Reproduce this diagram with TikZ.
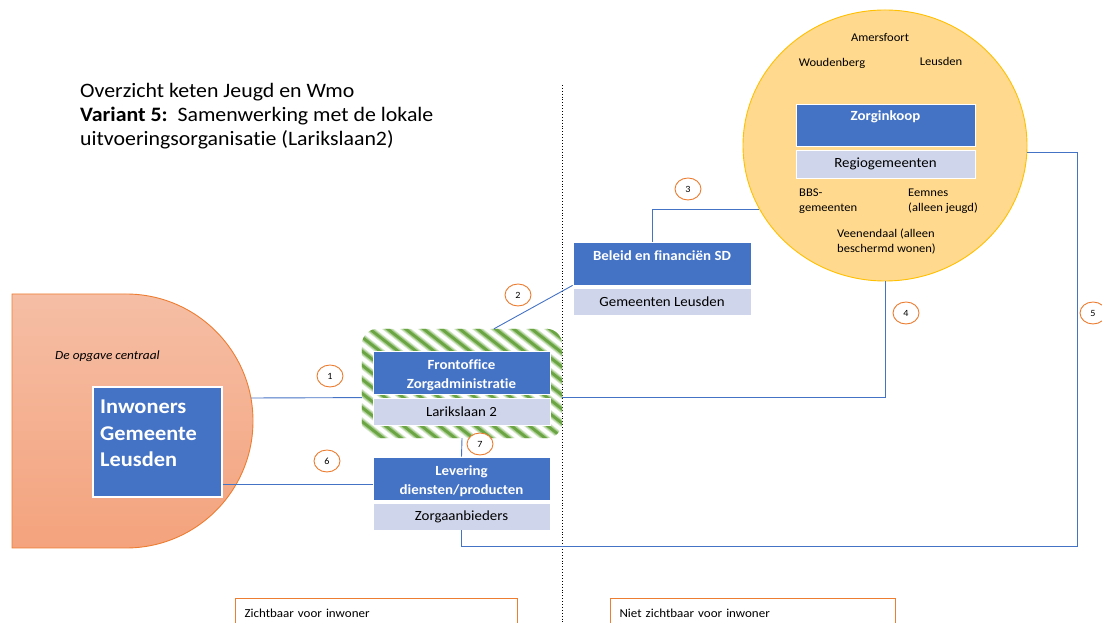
\documentclass[tikz,border=0pt]{standalone}
\usepackage{fontspec}
\setmainfont{Carlito}[FakeStretch=1.065, Ligatures=NoCommon]
\usetikzlibrary{shapes.geometric,calc}

\definecolor{blueC}{HTML}{4472C4}
\definecolor{lightC}{HTML}{CFD5EA}
\definecolor{orangeC}{HTML}{ED7D31}
\definecolor{dTop}{HTML}{F5BEA5}
\definecolor{dBot}{HTML}{F4A37D}
\definecolor{ellFill}{HTML}{FFD98E}
\definecolor{ellDraw}{HTML}{FFC000}
\definecolor{greenC}{HTML}{70AD47}

\tikzset{
  hdr/.style={draw=white, line width=0.8, fill=blueC, minimum width=177, minimum height=43, inner sep=0},
  hdrtxt/.style={text=white, font=\bfseries\fontsize{14}{19}\selectfont, align=center, inner sep=0},
  sub/.style={draw=white, line width=0.8, fill=lightC, minimum width=177, minimum height=27, inner sep=0, font=\fontsize{14}{16}\selectfont},
  num/.style={ellipse, draw=orangeC, line width=0.9, fill=white, minimum width=26, minimum height=22, inner sep=0, font=\fontsize{9.5}{10}\selectfont},
  conn/.style={draw=blueC, line width=0.9},
  small/.style={font=\fontsize{11.8}{15}\selectfont, inner sep=0, align=left},
  visbox/.style={draw=orangeC, line width=1, fill=white, text width=264, inner xsep=9, inner ysep=0, minimum height=30, align=left, font=\fontsize{12.2}{14}\selectfont},
  stripeSoft/.style={line width=7, draw=greenC!30},
  stripeMid/.style={line width=5, draw=greenC!60},
  stripeCore/.style={line width=2.8, draw=greenC!95!black},
}

\begin{document}
\begin{tikzpicture}[x=1pt, y=1pt]
\useasboundingbox (0,0) rectangle (1102,623);

% title
\node[anchor=north west, inner sep=0, align=left, font=\fontsize{20.5}{24}\selectfont] (title) at (80,540)
  {Overzicht keten Jeugd en Wmo\\
   \textbf{Variant 5:}\ \ Samenwerking met de lokale\\
   uitvoeringsorganisatie (Larikslaan2)};

% divider between visible and invisible part
\coordinate (divTop) at (562,538);
\coordinate (divBot) at (562,0);
\draw[dotted, line width=0.9] (divTop) -- (divBot);

% "De opgave centraal" area
\path[draw=orangeC, line width=0.9, top color=dTop, bottom color=dBot]
  (12,75) -- (12,329) -- (126,329) arc[start angle=90, end angle=-90, radius=127] -- cycle;
\coordinate (opgaveRand) at (250.9,225);
\node[anchor=west, inner sep=0, font=\itshape\fontsize{12.5}{14}\selectfont] (opgave) at (55,267) {De opgave centraal};

% inhabitants
\node[draw=white, line width=1.2, fill=blueC, minimum width=129, minimum height=110, inner sep=0] (inw) at (157.5,181) {};
\node[anchor=north west, inner sep=0, align=left, text=white, font=\bfseries\fontsize{21}{26.5}\selectfont] (inwTxt) at (100,223)
  {Inwoners\\Gemeente\\Leusden};

% striped frontoffice frame
\node[minimum width=200, minimum height=109, inner sep=0] (stripe) at (462,239.5) {};
\begin{scope}
  \path[clip, rounded corners=16] (stripe.south west) rectangle (stripe.north east);
  \fill[white] (stripe.south west) rectangle (stripe.north east);
  \foreach \k in {-11,...,12} {
    \draw[stripeSoft] (362+\k*18,300) -- ++(170,-133);
    \draw[stripeMid] (362+\k*18,300) -- ++(170,-133);
    \draw[stripeCore] (362+\k*18,300) -- ++(170,-133);
  }
\end{scope}

% boxes
\node[hdr] (front) at (461.5,250) {};
\node[hdrtxt] (frontTxt) at (461.5,247.5) {Frontoffice\\Zorgadministratie};
\node[sub] (larik) at (461.5,211.5) {Larikslaan 2};

\node[hdr] (lev) at (461.5,144.5) {};
\node[hdrtxt] (levTxt) at (461.5,142) {Levering\\diensten/producten};
\node[sub] (zorg) at (461.5,106.5) {Zorgaanbieders};

\node[hdr, minimum width=178] (bel) at (662,359.5) {};
\node[hdrtxt] (belTxt) at (662,367) {Beleid en financiën SD};
\node[sub, minimum width=178] (gem) at (662,321.5) {Gemeenten Leusden};

% region
\node[ellipse, draw=ellDraw, line width=0.9, fill=ellFill, minimum width=284, minimum height=271, inner sep=0] (regio) at (885,477.5) {};
\node[hdr, minimum width=179, minimum height=42] (koop) at (885.5,498) {};
\node[hdrtxt] (koopTxt) at (885.5,506) {Zorginkoop};
\node[sub, minimum width=179, minimum height=28] (regiogem) at (885.5,459) {Regiogemeenten};

\node[small] (amf) at (880,585) {Amersfoort};
\node[small] (wdb) at (832,560) {Woudenberg};
\node[small] (lsd) at (941,562) {Leusden};
\node[small, anchor=north west] (bbs) at (799,434) {BBS-\\gemeenten};
\node[small, anchor=north west] (emn) at (908,434) {Eemnes\\(alleen jeugd)};
\node[small, anchor=north west] (vnd) at (837,394) {Veenendaal (alleen\\beschermd wonen)};

% connectors
\coordinate (k6) at ($(lev.west)+(0,-5.5)$);
\coordinate (k5) at (1077,77);
\draw[conn] (opgaveRand) -- (stripe.west |- larik.north);
\draw[conn] (inw.east |- k6) -- (k6);
\draw[conn] ($(stripe.north)+(32,0)$) -- (bel.south west);
\draw[conn] ($(bel.north)+(-10,0)$) |- (regio.207);
\draw[conn] (regio.south) |- (stripe.east |- larik.north);
\draw[conn] (regio.-3) -| (k5) -| (zorg.south);
\draw[conn] (stripe.south) -- (lev.north);

% step numbers
\node[num] (n1) at (330,247) {1};
\node[num] (n2) at (518,328) {2};
\node[num] (n3) at (688,434) {3};
\node[num] (n4) at (906,310) {4};
\node[num] (n5) at (1093,310) {5};
\node[num] (n6) at (327,162) {6};
\node[num] (n7) at (480,179) {7};

% visibility captions
\node[visbox, anchor=north west] (zicht) at (235,25) {Zichtbaar voor inwoner};
\node[visbox, anchor=north west, text width=267] (nietzicht) at (610,25) {Niet zichtbaar voor inwoner};
\end{tikzpicture}
\end{document}
